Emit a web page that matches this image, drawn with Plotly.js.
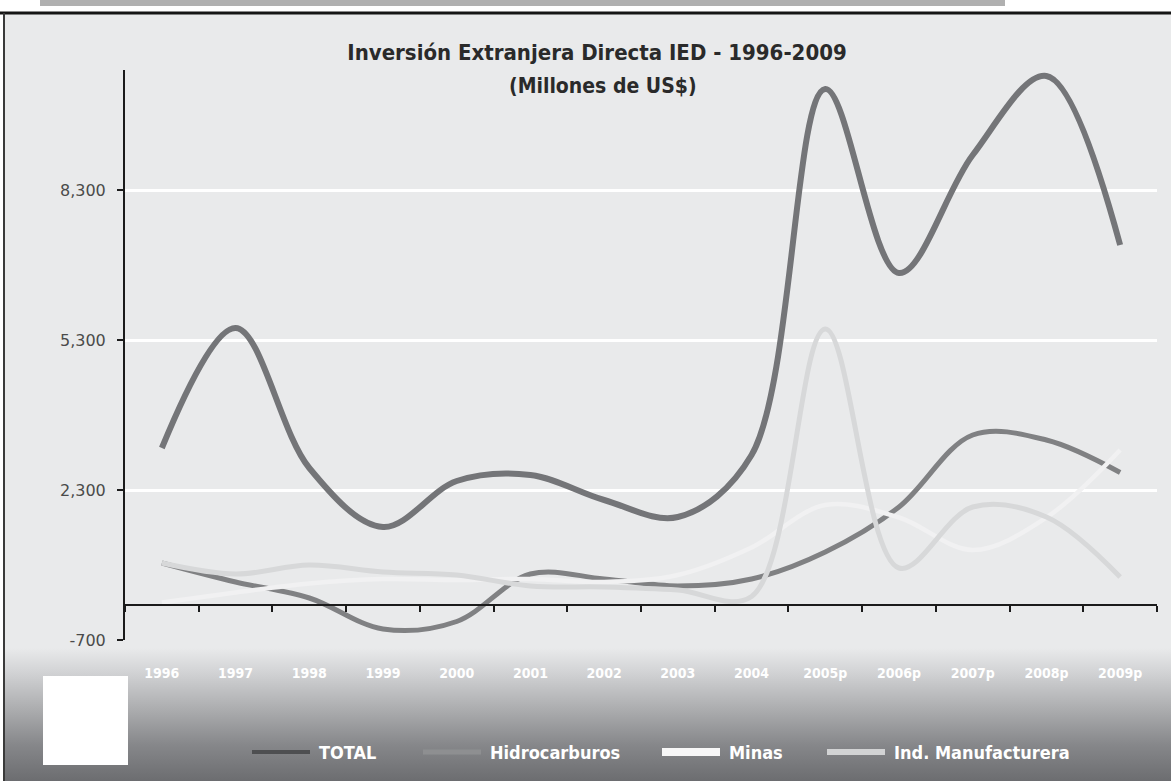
<!DOCTYPE html>
<html>
<head>
<meta charset="utf-8">
<script src="https://cdn.plot.ly/plotly-3.0.1.min.js"></script>
<style>
  html, body { margin: 0; padding: 0; background: #ffffff; }
  #chart {
    width: 1171px; height: 781px;
    background: linear-gradient(to bottom, #e9eaeb 0px, #e9eaeb 648px, #d2d3d5 672px, #a9aaac 712px, #86878a 745px, #6c6d70 781px);
  }
</style>
</head>
<body>
<div id="chart"></div>
<script>
// ---- data (millones de US$) ----
const years = ['1996','1997','1998','1999','2000','2001','2002','2003','2004','2005p','2006p','2007p','2008p','2009p'];
const total = [3140, 5540, 2740, 1560, 2480, 2600, 2100, 1760, 3000, 10320, 6640, 9000, 10580, 7200];
const hidrocarburos = [840, 460, 140, -480, -330, 620, 520, 380, 520, 1060, 1960, 3400, 3300, 2650];
const minas = [50, 250, 430, 520, 500, 520, 460, 600, 1150, 2000, 1750, 1100, 1750, 3100];
const manufacturera = [840, 620, 800, 660, 600, 380, 360, 300, 170, 5520, 740, 1960, 1760, 560];

const yTickVals = [-700, 2300, 5300, 8300];
const yTickText = ['-700', '2,300', '5,300', '8,300'];
const seriesNames = ['TOTAL', 'Hidrocarburos', 'Minas', 'Ind. Manufacturera'];

const yMin = -700, yMax = 10700;
const condensed = '"DejaVu Sans Condensed", "Liberation Sans Narrow", "DejaVu Sans", sans-serif';

// series styles
const lineColors = ['#747578', '#808183', '#f1f1f2', '#d7d8d9'];
const lineWidths = [6, 5, 4.5, 5];
// legend swatch styles (drawn on the dark footer)
const swatchColors = ['#4e4f51', '#8e8f91', '#f7f7f7', '#d2d3d4'];
const swatchWidths = [4, 5, 8, 6];

const seriesValues = [total, hidrocarburos, minas, manufacturera];

const traces = seriesNames.map((name, i) => ({
  x: years, y: seriesValues[i], name: name, type: 'scatter', mode: 'lines',
  line: {color: lineColors[i], width: lineWidths[i], shape: 'spline', smoothing: 1},
  showlegend: false
}));

// pixel helpers for decorations (plot area: x 125..1157, y 70..640)
const L = 125, R = 1157, T = 70, B = 640;
const px = v => (v - L) / (R - L);
const py = v => (B - v) / (B - T);

// legend layout (pixel positions of text starts, swatch length)
const legendTextX = [317, 488, 727, 892];
const legendY = 752;
const swatchLen = 58, swatchGap = 7;

const legendShapes = seriesNames.map((n, i) => ({
  type: 'line', xref: 'paper', yref: 'paper',
  x0: px(legendTextX[i] - swatchGap - swatchLen), x1: px(legendTextX[i] - swatchGap),
  y0: py(legendY), y1: py(legendY),
  line: {color: swatchColors[i], width: swatchWidths[i]}
}));
const legendLabels = seriesNames.map((n, i) => ({
  text: '<b>' + n + '</b>', xref: 'paper', yref: 'paper',
  x: px(legendTextX[i]), y: py(legendY), xanchor: 'left', yanchor: 'middle',
  showarrow: false,
  font: {family: condensed, size: 18, color: '#ffffff'}
}));

const layout = {
  width: 1171, height: 781,
  margin: {l: L, r: 1171 - R, t: T, b: 781 - B},
  paper_bgcolor: 'rgba(0,0,0,0)',
  plot_bgcolor: 'rgba(0,0,0,0)',
  showlegend: false,
  title: {
    text: '<b>Inversión Extranjera Directa IED - 1996-2009</b>',
    font: {family: condensed, size: 22, color: '#2a2a2a'},
    x: 597 / 1171, xref: 'container', xanchor: 'center',
    y: (781 - 52) / 781, yref: 'container', yanchor: 'middle'
  },
  annotations: [{
    text: '<b>(Millones de US$)</b>',
    xref: 'paper', yref: 'paper', x: px(603), y: py(86),
    xanchor: 'center', yanchor: 'middle', showarrow: false,
    font: {family: condensed, size: 21, color: '#2a2a2a'}
  }].concat(legendLabels),
  xaxis: {
    type: 'category',
    categoryorder: 'array', categoryarray: years,
    range: [-0.5, years.length - 0.5],
    anchor: 'free',
    position: (0 - yMin) / (yMax - yMin),
    showline: true, linecolor: '#1b1b1b', linewidth: 2,
    ticks: 'outside', ticklen: 6, tickwidth: 2, tickcolor: '#1b1b1b',
    tickson: 'boundaries',
    showgrid: false, zeroline: false,
    ticklabelstandoff: 55,
    tickfont: {family: condensed, size: 14, color: '#ffffff', weight: 'bold'}
  },
  yaxis: {
    range: [yMin, yMax],
    tickmode: 'array', tickvals: yTickVals, ticktext: yTickText,
    showline: true, linecolor: '#1b1b1b', linewidth: 2,
    ticks: 'outside', ticklen: 6, tickwidth: 2, tickcolor: '#1b1b1b',
    showgrid: true, gridcolor: '#ffffff', gridwidth: 3,
    zeroline: false,
    tickfont: {family: '"DejaVu Sans", sans-serif', size: 16, color: '#4a4a4a'},
    ticklabelstandoff: 8
  },
  shapes: [
    // white strip above frame
    {type: 'rect', xref: 'paper', yref: 'paper', x0: px(0), x1: px(1171), y0: py(12), y1: py(0),
     fillcolor: '#ffffff', line: {width: 0}, layer: 'below'},
    // grey tab at very top
    {type: 'rect', xref: 'paper', yref: 'paper', x0: px(40), x1: px(1005), y0: py(6), y1: py(0),
     fillcolor: '#b0b0b0', line: {width: 0}, layer: 'below'},
    // top frame line
    {type: 'line', xref: 'paper', yref: 'paper', x0: px(0), x1: px(1171), y0: py(13), y1: py(13),
     line: {color: '#151515', width: 3}},
    // left white margin and frame line
    {type: 'rect', xref: 'paper', yref: 'paper', x0: px(0), x1: px(3), y0: py(781), y1: py(13),
     fillcolor: '#ffffff', line: {width: 0}, layer: 'below'},
    {type: 'line', xref: 'paper', yref: 'paper', x0: px(4), x1: px(4), y0: py(781), y1: py(13),
     line: {color: '#3a3a3a', width: 2}},
    // white square bottom-left
    {type: 'rect', xref: 'paper', yref: 'paper', x0: px(43), x1: px(128), y0: py(765), y1: py(676),
     fillcolor: '#ffffff', line: {width: 0}}
  ].concat(legendShapes)
};

Plotly.newPlot('chart', traces, layout, {displayModeBar: false, staticPlot: true});
</script>
</body>
</html>
